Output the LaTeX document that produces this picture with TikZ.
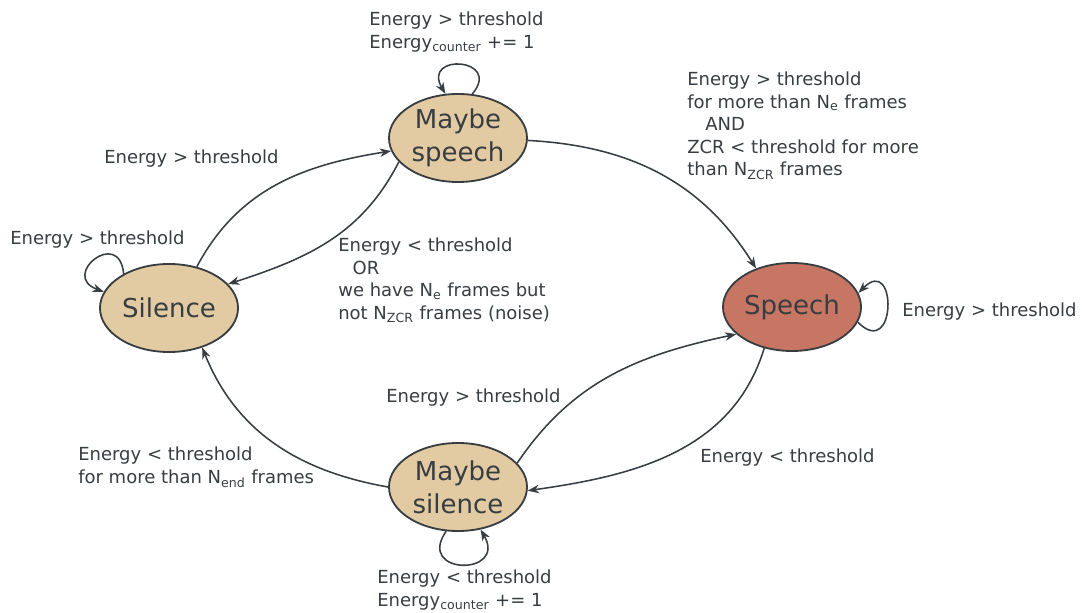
\documentclass[tikz,border=0pt]{standalone}
\usepackage{fontspec}
\setmainfont{DejaVu Sans}
\usetikzlibrary{arrows.meta, shapes.geometric}
\definecolor{ink}{HTML}{383D42}
\definecolor{sand}{HTML}{E2CBA2}
\definecolor{brick}{HTML}{C77664}

\begin{document}
\begin{tikzpicture}[x=0.025cm, y=0.025cm, >={Stealth[length=8pt, width=6pt, inset=2.5pt]},
    every node/.style={text=ink},
    state/.style={ellipse, draw=ink, line width=1.3pt, fill=sand,
                  minimum width=3.45cm, minimum height=2.2cm, inner sep=0pt,
                  align=center, font=\fontsize{18.5}{23.5}\selectfont},
    cond/.style={anchor=north west, align=left, inner sep=0pt,
                 font=\fontsize{12.8}{16}\selectfont},
    trans/.style={->, draw=ink, line width=1.1pt}]
  \useasboundingbox (0,0) rectangle (1082,612);
  \node[state]             (sil)  at (169,304) {Silence};
  \node[state]             (mspc) at (458,474) {Maybe\\speech};
  \node[state, fill=brick] (spc)  at (792,305) {Speech};
  \node[state]             (msil) at (458,125) {Maybe\\silence};

  \draw[trans] (sil.56)   to[out=62,  in=189] (mspc.191);
  \draw[trans] (mspc.202) to[out=243, in=18]  (sil.22);
  \draw[trans] (mspc.358) to[out=-3,  in=122] (spc.133);
  \draw[trans] (spc.236)  to[out=253, in=8]   (msil.357);
  \draw[trans] (msil.22)  to[out=56,  in=192] (spc.206);
  \draw[trans] (msil.180) to[out=170, in=292] (sil.310);

  \draw[trans] (mspc.72)  to[out=50,  in=120, looseness=4.5] (mspc.106);
  \draw[trans] (sil.143)  to[out=95,  in=160, looseness=4.5] (sil.166);
  \draw[trans] (spc.347)  to[out=-45, in=45,  looseness=4.8] (spc.12);
  \draw[trans] (msil.255) to[out=235, in=300, looseness=4] (msil.298);

  \node[cond] (lmspc) at (369,600) {Energy > threshold\\Energy\textsubscript{counter} += 1};
  \node[cond] (lup)   at (687,540) {Energy > threshold\\for more than N\textsubscript{e} frames\\\hspace*{1em}AND\\ZCR < threshold for more\\than N\textsubscript{ZCR} frames};
  \node[cond] (lback) at (338,374) {Energy < threshold\\\hspace*{0.8em}OR\\we have N\textsubscript{e} frames but\\not N\textsubscript{ZCR} frames (noise)};
  \node[cond] (lsil)  at (10,381)  {Energy > threshold};
  \node[cond] (lgo)   at (104,462) {Energy > threshold};
  \node[cond] (lspc)  at (902,309) {Energy > threshold};
  \node[cond] (lre)   at (386,223) {Energy > threshold};
  \node[cond] (ldown) at (700,163) {Energy < threshold};
  \node[cond] (lend)  at (78,165)  {Energy < threshold\\for more than N\textsubscript{end} frames};
  \node[cond] (lmsil) at (377,42)  {Energy < threshold\\Energy\textsubscript{counter} += 1};
\end{tikzpicture}
\end{document}
